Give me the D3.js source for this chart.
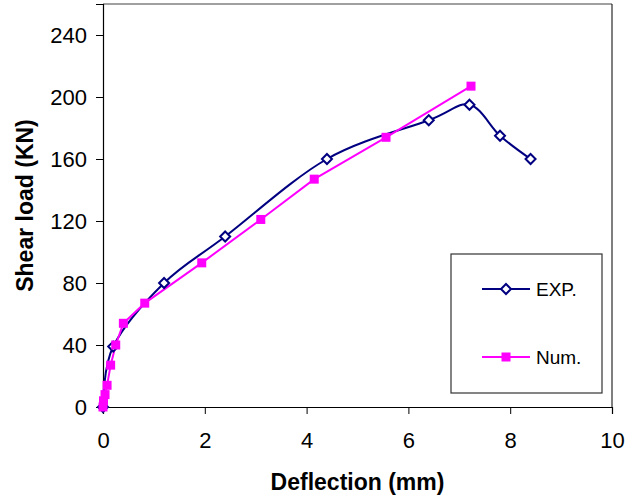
<!DOCTYPE html>
<html><head><meta charset="utf-8">
<script src="https://cdn.jsdelivr.net/npm/d3@7"></script>
<style>body{margin:0;background:#fff}svg{display:block}text{font-family:"Liberation Sans",Arial,sans-serif}</style>
</head><body><div id="c"></div>
<script>
const expX = [0, 0.2, 1.2, 2.4, 4.4, 6.4, 7.2, 7.8, 8.4];
const expY = [0, 39, 80, 110, 160, 185, 195, 175, 160];
const numX = [0, 0.01, 0.04, 0.08, 0.15, 0.25, 0.4, 0.82, 1.94, 3.1, 4.15, 5.56, 7.23];
const numY = [0, 4, 8, 14, 27, 40, 54, 67, 93, 121, 147, 174, 207];
const xTicks = [0, 2, 4, 6, 8, 10];
const yTicks = [0, 40, 80, 120, 160, 200, 240];
const seriesNames = ["EXP.", "Num."];

const W = 637, H = 499;
const m = {l: 103, r: 25, t: 4, b: 92};
const svg = d3.select("#c").append("svg").attr("width", W).attr("height", H);
const x = d3.scaleLinear().domain([0, 10]).range([m.l, W - m.r]);
const y = d3.scaleLinear().domain([0, 260]).range([H - m.b, m.t]);

// plot frame (top/right)
svg.append("line").attr("x1", x(0)).attr("x2", x(10)).attr("y1", y(260)).attr("y2", y(260)).attr("stroke", "#808080").attr("stroke-width", 1.5);
svg.append("line").attr("x1", x(10)).attr("x2", x(10)).attr("y1", y(260)).attr("y2", y(0)).attr("stroke", "#000").attr("stroke-width", 1);

const xa = svg.append("g").attr("transform", `translate(0,${y(0)})`)
  .call(d3.axisBottom(x).tickValues(xTicks).tickSize(7).tickPadding(18).tickFormat(d3.format("d")));
const ya = svg.append("g").attr("transform", `translate(${x(0)},0)`)
  .call(d3.axisLeft(y).tickValues(yTicks).tickSize(7).tickPadding(9).tickFormat(d3.format("d")));
[xa, ya].forEach(a => {
  a.select(".domain").attr("stroke", "#000").attr("stroke-width", 1.2);
  a.selectAll(".tick line").attr("stroke", "#000");
  a.selectAll("text").attr("font-size", 22).attr("fill", "#000").attr("font-family", "Liberation Sans, Arial, sans-serif");
});

svg.append("text").attr("x", (x(0) + x(10)) / 2).attr("y", 490).attr("text-anchor", "middle")
  .attr("font-size", 23).attr("font-weight", "bold").text("Deflection (mm)");
svg.append("text").attr("transform", `translate(33,${(y(0) + y(260)) / 2}) rotate(-90)`).attr("text-anchor", "middle")
  .attr("font-size", 23).attr("font-weight", "bold").text("Shear load (KN)");

const exp = expX.map((v, i) => [v, expY[i]]);
const num = numX.map((v, i) => [v, numY[i]]);
const navy = "#000080", mag = "#FF00FF";

svg.append("path").datum(exp).attr("fill", "none").attr("stroke", navy).attr("stroke-width", 2)
  .attr("d", d3.line().x(d => x(d[0])).y(d => y(d[1])).curve(d3.curveCardinal.tension(0)));
svg.append("path").datum(num).attr("fill", "none").attr("stroke", mag).attr("stroke-width", 2)
  .attr("d", d3.line().x(d => x(d[0])).y(d => y(d[1])));

const diamond = (cx, cy, r) => `M${cx},${cy - r}L${cx + r},${cy}L${cx},${cy + r}L${cx - r},${cy}Z`;
svg.append("g").selectAll("path").data(exp).join("path")
  .attr("d", d => diamond(x(d[0]), y(d[1]), 5)).attr("fill", "#fff").attr("stroke", navy).attr("stroke-width", 2);
svg.append("g").selectAll("rect").data(num).join("rect")
  .attr("x", d => x(d[0]) - 4.5).attr("y", d => y(d[1]) - 4.5).attr("width", 9).attr("height", 9).attr("fill", mag);

// legend
const lg = svg.append("g");
lg.append("rect").attr("x", 451).attr("y", 254).attr("width", 151).attr("height", 139)
  .attr("fill", "#fff").attr("stroke", "#333").attr("stroke-width", 1.2);
const ly = [289, 357];
lg.append("line").attr("x1", 482).attr("x2", 530).attr("y1", ly[0]).attr("y2", ly[0]).attr("stroke", navy).attr("stroke-width", 2);
lg.append("path").attr("d", diamond(506, ly[0], 5)).attr("fill", "#fff").attr("stroke", navy).attr("stroke-width", 2);
lg.append("line").attr("x1", 482).attr("x2", 530).attr("y1", ly[1]).attr("y2", ly[1]).attr("stroke", mag).attr("stroke-width", 2);
lg.append("rect").attr("x", 501.5).attr("y", ly[1] - 4.5).attr("width", 9).attr("height", 9).attr("fill", mag);
seriesNames.forEach((n, i) => lg.append("text").attr("x", 536).attr("y", ly[i] + 7).attr("font-size", 19).attr("fill", "#000").text(n));
</script></body></html>
